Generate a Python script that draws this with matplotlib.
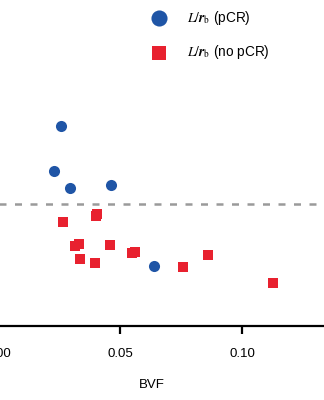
import matplotlib
matplotlib.use("Agg")
import matplotlib.pyplot as plt

plt.rcParams["font.family"] = ["Liberation Sans", "DejaVu Sans"]
plt.rcParams["mathtext.fontset"] = "stix"

# BVF vs L/r_b, split by response
bvf_pcr = [0.0258, 0.0228, 0.0295, 0.0464, 0.0639]
ratio_pcr = [2.00, 1.555, 1.38, 1.41, 0.60]

bvf_nopcr = [0.0265, 0.0400, 0.0405, 0.0316, 0.0332, 0.0337, 0.0398,
             0.0458, 0.0551, 0.0561, 0.0760, 0.0862, 0.1125]
ratio_nopcr = [1.043, 1.105, 1.12, 0.80, 0.825, 0.675, 0.633,
               0.81, 0.727, 0.737, 0.593, 0.713, 0.43]

threshold = 1.22
xticks = [0.00, 0.05, 0.10]

blue = "#1f55a6"
red = "#e8212f"

fig = plt.figure(figsize=(3.24, 4.0), dpi=100)
ax = fig.add_axes([-20 / 324, 74 / 400, 344 / 324, 326 / 400])

ax.scatter(bvf_pcr, ratio_pcr, s=64, marker="o", color=blue, linewidths=0,
           label=r"$\mathit{L}/\boldsymbol{r}_{\mathrm{b}}$ (pCR)", zorder=3)
ax.scatter(bvf_nopcr, ratio_nopcr, s=54, marker="s", color=red, linewidths=0,
           label=r"$\mathit{L}/\boldsymbol{r}_{\mathrm{b}}$ (no pCR)", zorder=3)
ax.axhline(threshold, color="#9a9a9a", linestyle=(0, (2.8, 3.4)), linewidth=1.8, zorder=1)

ax.set_xlim(-18 * 0.05 / 122, 326 * 0.05 / 122)
ax.set_ylim(0, 3.26)
ax.set_xticks(xticks)
ax.set_xticklabels([f"{t:.2f}" for t in xticks])
ax.set_yticks([])
for side in ["top", "right", "left"]:
    ax.spines[side].set_visible(False)
ax.spines["bottom"].set_linewidth(1.6)
ax.tick_params(axis="x", length=6, width=1.6, pad=9.5, labelsize=9.5)
ax.set_xlabel("BVF", fontsize=9.5, labelpad=14)

fig.legend(loc="upper left", bbox_to_anchor=(152 / 324, 1 - 9 / 400),
           frameon=False, fontsize=9.8, markerscale=1.45, handlelength=1.0,
           handletextpad=1.55, labelspacing=1.2, borderpad=0, borderaxespad=0)

fig.savefig("out.png", dpi=100)
